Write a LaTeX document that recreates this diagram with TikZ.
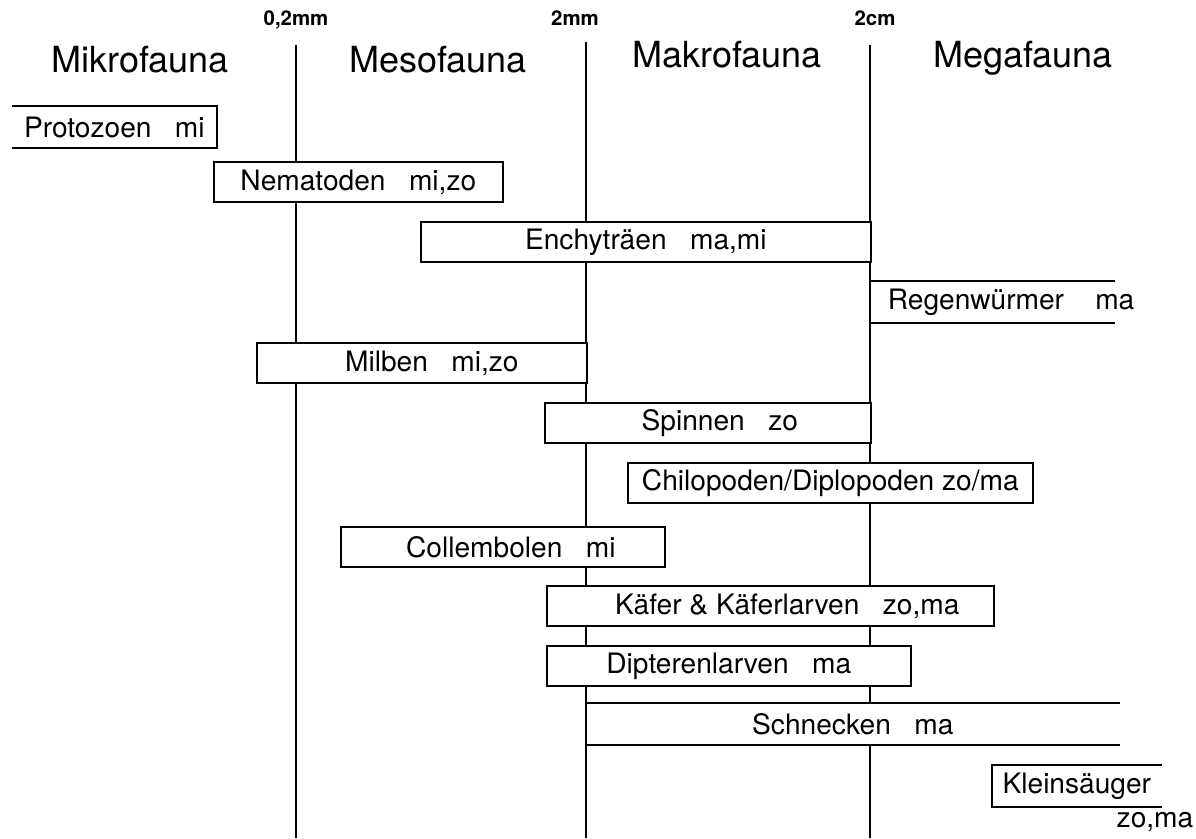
\documentclass[tikz,border=0pt]{standalone}
\usepackage{fontspec}
\setmainfont{TeX Gyre Heros}
\begin{document}
\begin{tikzpicture}[
  x=0.025cm,
  y=-0.025cm,
  every node/.style={font=\fontsize{20}{24}\selectfont},
  zone/.style={anchor=base, font=\fontsize{25.6}{30}\selectfont},
  sizelabel/.style={anchor=base, font=\bfseries\fontsize{14.5}{16}\selectfont},
  divider/.style={line width=1pt},
  taxon/.style={draw, fill=white, line width=1.2pt, anchor=west, inner sep=0pt,
    minimum height=1cm, minimum width={#1*0.025cm}},
  openbox/.style={taxon=#1, draw=none},
  boxline/.style={line width=1.2pt}
]
  \useasboundingbox (0,0) rectangle (1196,838);

  % size limits and zones
  \node[sizelabel] (l02) at (296,25) {0,2mm};
  \node[sizelabel] (l2mm) at (575,25) {2mm};
  \node[sizelabel] (l2cm) at (875,25) {2cm};
  \coordinate (d1top) at (296,45);  \coordinate (d1bot) at (296,838);
  \coordinate (d2top) at (586,42);  \coordinate (d2bot) at (586,838);
  \coordinate (d3top) at (870,45);  \coordinate (d3bot) at (870,838);
  \draw[divider] (d1top) -- (d1bot);
  \draw[divider] (d2top) -- (d2bot);
  \draw[divider] (d3top) -- (d3bot);

  \node[zone] (mikro) at (140,72) {Mikrofauna};
  \node[zone] (meso) at (438,72) {Mesofauna};
  \node[zone] (makro) at (727,67) {Makrofauna};
  \node[zone] (mega) at (1023,67) {Megafauna};

  % groups
  \node[openbox=203] (proto) at (12,127) {Protozoen~~~mi};
  \draw[boxline] (proto.north west) -- (proto.north east) -- (proto.south east) -- (proto.south west);

  \node[taxon=289] (nema) at (213,182) {Nematoden~~~mi,zo};
  \node[taxon=450] (enchy) at (420,242) {Enchyträen~~~ma,mi};

  \node[openbox=245] (regen) at (870,302) {\hspace*{0.425cm}Regenwürmer~~~~ma};
  \coordinate (regenend) at (1115,302);
  \draw[boxline] (regen.north west -| regenend) -- (regen.north west) -- (regen.south west) -- (regen.south west -| regenend);

  \node[taxon=330] (milben) at (256,363) {\hspace*{0.5cm}Milben~~~mi,zo};
  \node[taxon=326] (spinnen) at (544,423) {\hspace*{0.6cm}Spinnen~~~zo};
  \node[taxon=405] (chilo) at (627,483) {Chilopoden/Diplopoden zo/ma};
  \node[taxon=324] (coll) at (340,547) {\hspace*{0.4cm}Collembolen~~~mi};
  \node[taxon=447] (kaefer) at (546,606) {\hspace*{0.85cm}Käfer \& Käferlarven~~~zo,ma};
  \node[taxon=364] (dipt) at (546,666) {Dipterenlarven~~~ma};

  \node[openbox=532] (schn) at (586,724) {Schnecken~~~ma};
  \draw[boxline] (schn.north east) -- (schn.north west) -- (schn.south west) -- (schn.south east);

  \node[openbox=168] (klein) at (992,786) {Kleinsäuger};
  \draw[boxline] (klein.north east) -- (klein.north west) -- (klein.south west) -- (klein.south east);
  \node (kleinzo) at (1155,822) {zo,ma};
\end{tikzpicture}
\end{document}
